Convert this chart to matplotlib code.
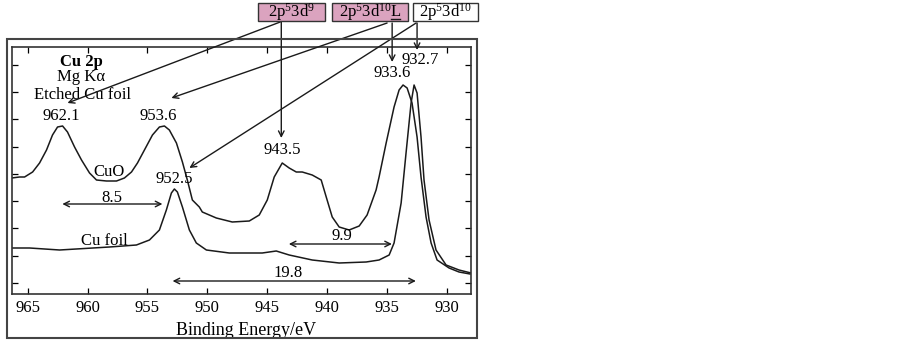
import matplotlib
matplotlib.use("Agg")
import matplotlib.pyplot as plt
from matplotlib.patches import Rectangle
from matplotlib.lines import Line2D
import numpy as np

plt.rcParams['font.family'] = ['Liberation Serif', 'DejaVu Serif']
plt.rcParams['mathtext.fontset'] = 'custom'
plt.rcParams['mathtext.rm'] = 'Liberation Serif'
plt.rcParams['mathtext.it'] = 'Liberation Serif:italic'

# CuO spectrum (binding energy in eV, intensity in arb. units)
cuo_be = [966.33, 965.67, 965.25, 964.58, 964.0, 963.42, 962.92, 962.5, 962.08, 961.67,
          961.08, 960.5, 959.83, 959.25, 958.42, 957.58, 956.92, 956.33, 955.83, 955.25,
          954.58, 954.0, 953.58, 953.17, 952.58, 952.08, 951.67, 951.25, 950.67, 950.42,
          949.25, 947.92, 946.5, 945.67, 945.0, 944.42, 943.75, 943.17, 942.58, 942.08,
          941.25, 940.5, 940.08, 939.58, 939.0, 938.17, 937.33, 936.67, 935.92, 935.67,
          935.08, 934.42, 934.0, 933.67, 933.33, 932.92, 932.5, 932.17, 931.75, 931.33,
          930.83, 929.83, 929.0, 928.08]
cuo_int = [116, 117, 117, 122, 131, 144, 159, 167, 168, 162,
           147, 134, 121, 114, 113, 113, 116, 122, 131, 144,
           159, 167, 168, 164, 151, 132, 114, 94, 87, 82,
           76, 72, 73, 79, 94, 117, 131, 126, 122, 122,
           119, 114, 97, 77, 67, 64, 68, 79, 104, 117,
           151, 187, 204, 209, 206, 191, 157, 117, 77, 51,
           34, 26, 22, 20]

# Cu foil spectrum
cu_be = [966.33, 964.83, 962.33, 958.17, 955.92, 954.83, 954.0, 953.42, 953.0, 952.75,
         952.5, 952.08, 951.5, 950.92, 950.08, 948.17, 945.42, 944.25, 943.17, 941.25,
         939.0, 936.75, 935.67, 934.83, 934.42, 933.83, 933.42, 933.0, 932.75, 932.5,
         932.17, 931.92, 931.5, 930.92, 930.08, 929.0, 928.0]
cu_int = [46, 46, 44, 47, 49, 54, 64, 84, 101, 105,
          102, 87, 64, 51, 44, 41, 41, 43, 39, 34,
          31, 32, 34, 39, 51, 91, 141, 191, 209, 201,
          157, 114, 74, 44, 29, 24, 21]

tick_be = [965, 960, 955, 950, 945, 940, 935, 930]

W, H = 902, 342
fig = plt.figure(figsize=(W / 100, H / 100), dpi=100)
ax = fig.add_axes([12 / W, 1 - 294 / H, 459 / W, 247 / H])

ax.plot(cuo_be, cuo_int, color='#1a1a1a', lw=1.1)
ax.plot(cu_be, cu_int, color='#1a1a1a', lw=1.1)

ax.set_xlim(966.3, 928.0)
ax.set_ylim(0, 247)
ax.set_xticks(tick_be)
ax.set_yticks(np.arange(11, 240, 27.3))
ax.tick_params(axis='both', direction='in', length=4, width=0.9, top=True, right=True,
               labelsize=12, pad=4)
ax.tick_params(axis='y', labelleft=False)
ax.set_xlabel('Binding Energy/eV', fontsize=13, labelpad=0)
ax.xaxis.set_label_coords(0.51, -0.115)
for s in ax.spines.values():
    s.set_linewidth(1.2)
    s.set_color('#333333')

fs = 12
ax.text(960.5, 232, 'Cu 2p', ha='center', va='center', fontsize=fs, fontweight='bold')
ax.text(960.5, 217, 'Mg K\u03b1', ha='center', va='center', fontsize=fs)
ax.text(960.4, 199, 'Etched Cu foil', ha='center', va='center', fontsize=fs)
ax.text(962.2, 178, '962.1', ha='center', va='center', fontsize=fs)
ax.text(954.1, 178, '953.6', ha='center', va='center', fontsize=fs)
ax.text(958.2, 122, 'CuO', ha='center', va='center', fontsize=fs)
ax.text(952.8, 115, '952.5', ha='center', va='center', fontsize=fs)
ax.text(943.75, 144, '943.5', ha='center', va='center', fontsize=fs)
ax.text(934.6, 221, '933.6', ha='center', va='center', fontsize=fs)
ax.text(932.2, 234, '932.7', ha='center', va='center', fontsize=fs)
ax.text(958.6, 53, 'Cu foil', ha='center', va='center', fontsize=fs)

# splitting arrows
dbl = dict(arrowstyle='<->', color='#1a1a1a', lw=1.0, shrinkA=0, shrinkB=0)
ax.annotate('', xy=(962.1, 90), xytext=(953.75, 90), arrowprops=dbl)
ax.text(958.0, 96, '8.5', ha='center', va='center', fontsize=fs)
ax.annotate('', xy=(943.2, 50), xytext=(934.6, 50), arrowprops=dbl)
ax.text(938.75, 58, '9.9', ha='center', va='center', fontsize=fs)
ax.annotate('', xy=(952.9, 13), xytext=(932.6, 13), arrowprops=dbl)
ax.text(943.25, 21, '19.8', ha='center', va='center', fontsize=fs)

# configuration boxes (pixel extents)
pink = '#dba3bf'
boxes = [('2p$^5$3d$^9$', 258, 325, pink),
         ('2p$^5$3d$^{10}$L', 332, 408, pink),
         ('2p$^5$3d$^{10}$', 413, 478, 'white')]
fig.canvas.draw()
renderer = fig.canvas.get_renderer()
for label, x0, x1, fc in boxes:
    fig.patches.append(Rectangle((x0 / W, 1 - 21 / H), (x1 - x0) / W, 18 / H,
                                 transform=fig.transFigure, fc=fc, ec='#333333', lw=1.0))
    t = fig.text((x0 + x1) / 2 / W, 1 - 12.5 / H, label, ha='center', va='center', fontsize=12)
    if label.endswith('L'):
        # underline the ligand hole "L"
        bb = t.get_window_extent(renderer)
        tl = fig.text(0, 0, 'L', fontsize=12)
        wl = tl.get_window_extent(renderer).width
        tl.remove()
        fig.lines.append(Line2D([(bb.x1 - wl) / W, (bb.x1 - 1) / W], [1 - 18.5 / H] * 2,
                                transform=fig.transFigure, color='#1a1a1a', lw=1.0))

one = dict(arrowstyle='->', color='#1a1a1a', lw=1.0, shrinkA=0, shrinkB=0)
links = [((943.92, 272), (961.67, 191)), ((943.83, 272), (943.83, 156)),
         ((935.0, 271), (953.0, 196)), ((934.58, 271), (934.58, 232)),
         ((932.58, 271), (951.5, 126)), ((932.5, 271), (932.5, 244))]
for start, end in links:
    ax.annotate('', xy=end, xytext=start, arrowprops=one, annotation_clip=False)

fig.patches.append(Rectangle((7 / W, 1 - 338 / H), 470 / W, 299 / H, transform=fig.transFigure,
                             fill=False, ec='#444444', lw=1.5))

fig.savefig('out.png', dpi=100)
